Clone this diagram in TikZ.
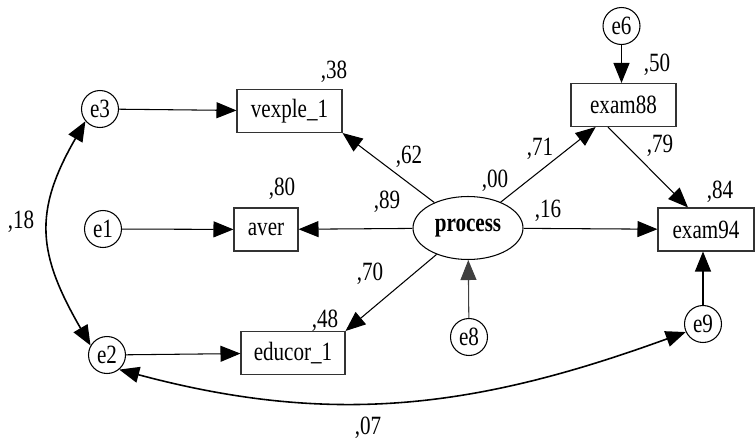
\documentclass[tikz,border=0pt]{standalone}
\usepackage{fontspec}
\setmainfont{Liberation Serif}[FakeStretch=0.8]
\usetikzlibrary{arrows.meta,shapes.geometric}

\tikzset{
	obs/.style={draw=black!80, line width=0.6pt, minimum height=0.86cm, inner sep=0pt},
	err/.style={circle, draw, line width=0.6pt, minimum size=0.74cm, inner sep=0pt},
	regr/.style={->, line width=0.6pt},
	corr/.style={<->, line width=0.9pt},
}

\begin{document}
\begin{tikzpicture}[x=0.02cm, y=-0.02cm, >={Triangle[length=0.4cm,width=0.32cm]}, font=\fontsize{15}{18}\selectfont]
			\useasboundingbox (0,0) rectangle (755,440);
			\node[err] (e3) at (100,109) {e3};
			\node[obs, minimum width=2.1cm] (vexple) at (289.5,111) {vexple\_1};
			\node[err] (e1) at (103,229) {e1};
			\node[obs, minimum width=1.28cm] (aver) at (266,229.5) {aver};
			\node[err] (e2) at (107,355) {e2};
			\node[obs, minimum width=2.08cm] (educor) at (293,353) {educor\_1};
			\node[ellipse, draw, line width=0.6pt, minimum width=2.2cm, minimum height=1.26cm, inner sep=0pt, font=\fontsize{15}{18}\selectfont\bfseries] (process) at (468,228) {process};
			\node[err] (e8) at (469,337) {e8};
			\node[err] (e6) at (621.5,26) {e6};
			\node[obs, minimum width=2.1cm] (exam88) at (623.5,105) {exam88};
			\node[obs, minimum width=1.92cm] (exam94) at (706,229.5) {exam94};
			\node[err] (e9) at (703,324) {e9};
			\node (l38) at (334,72) {,38};
			\node (l80) at (282,189) {,80};
			\node (l48) at (325,321) {,48};
			\node (l62) at (409,157) {,62};
			\node (l89) at (387,202) {,89};
			\node (l70) at (370,274) {,70};
			\node (l00) at (495,181) {,00};
			\node (l71) at (540,149) {,71};
			\node (l16) at (548,211) {,16};
			\node (l50) at (657,65) {,50};
			\node (l79) at (660,146) {,79};
			\node (l84) at (720,192) {,84};
			\node (l18) at (21,222) {,18};
			\node (l07) at (368,428) {,07};
			\draw[regr] (e3) -- (vexple);
			\draw[regr] (e1) -- (aver);
			\draw[regr] (e2) -- (educor);
			\draw[regr] (process) -- (vexple.south east);
			\draw[regr] (process) -- (aver);
			\draw[regr] (process) -- (educor.north east);
			\draw[regr] (process) -- (exam88);
			\draw[regr] (process) -- (exam94);
			\draw[regr] ([xshift=-0.31cm]exam88.south) -- ([xshift=-0.36cm]exam94.north);
			\draw[regr] (e6) -- (e6 |- exam88.north);
			\draw[regr, draw=black!75] (e8) -- (process);
			\draw[regr] (e9) -- (e9 |- exam94.south);
			\draw[corr] (e3.220) to[out=240, in=120, looseness=1.2] (e2.150);
			\draw[corr] (e2.-50) to[out=-15, in=200] (e9.205);
		\end{tikzpicture}
\end{document}
